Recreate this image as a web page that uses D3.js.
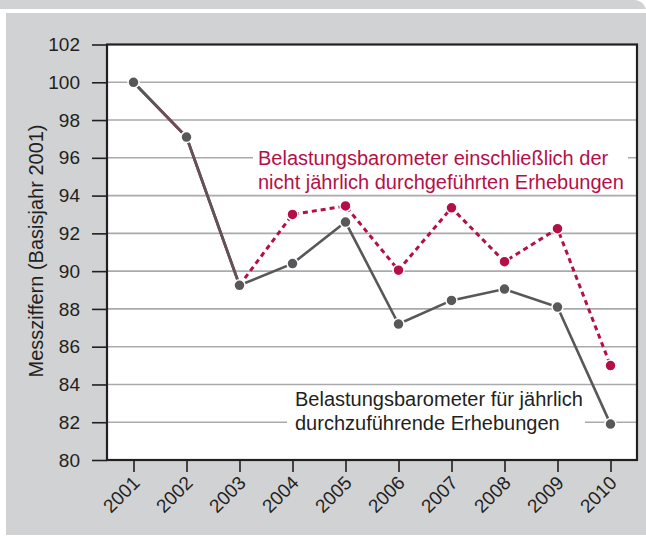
<!DOCTYPE html>
<html>
<head>
<meta charset="utf-8">
<script src="https://cdn.jsdelivr.net/npm/d3@7"></script>
<style>
  body { margin: 0; background: #fff; }
  svg { display: block; font-family: "Liberation Sans", Arial, Helvetica, sans-serif; }
</style>
</head>
<body>
<div id="chart"></div>
<script>
// chart values
const years = ['2001', '2002', '2003', '2004', '2005', '2006', '2007', '2008', '2009', '2010'];
const annual = [100, 97.1, 89.25, 90.4, 92.6, 87.2, 88.45, 89.05, 88.1, 81.9];
const allSurveys = [100, 97.1, 89.25, 93.0, 93.45, 90.05, 93.35, 90.5, 92.25, 85.0];
const yTicks = [80, 82, 84, 86, 88, 90, 92, 94, 96, 98, 100, 102];
const redLabel = ['Belastungsbarometer einschließlich der', 'nicht jährlich durchgeführten Erhebungen'];
const greyLabel = ['Belastungsbarometer für jährlich', 'durchzuführende Erhebungen'];
const yTitle = 'Messziffern (Basisjahr 2001)';

const W = 646, H = 539;
const frame = { left: 107, right: 637, top: 44.5, bottom: 460 };
const panelGrey = '#d1d2d4';
const red = '#b50f48';
const dark = '#58585a';

const svg = d3.select('#chart').append('svg')
  .attr('width', W)
  .attr('height', H);

// top band with rounded right corner, then the grey panel
svg.append('path')
  .attr('d', `M0,0 H634 A12,12 0 0 1 646,9 V9 H0 Z`)
  .attr('fill', panelGrey);
svg.append('rect')
  .attr('x', 6).attr('y', 13)
  .attr('width', W - 6).attr('height', 535 - 13)
  .attr('fill', panelGrey);

const x = d3.scalePoint()
  .domain(years)
  .range([frame.left, frame.right])
  .padding(0.5);

const y = d3.scaleLinear()
  .domain([80, 102])
  .range([frame.bottom, frame.top]);

// plot background
svg.append('rect')
  .attr('x', frame.left).attr('y', frame.top)
  .attr('width', frame.right - frame.left)
  .attr('height', frame.bottom - frame.top)
  .attr('fill', '#fff');

// gridlines
svg.append('g')
  .selectAll('line')
  .data(yTicks.filter(d => d > 80 && d < 102))
  .enter()
  .append('line')
  .attr('x1', frame.left).attr('x2', frame.right)
  .attr('y1', d => y(d)).attr('y2', d => y(d))
  .attr('stroke', '#a9aaac')
  .attr('stroke-width', 1.6);

// labels sit on a white box that cuts the gridline
function addLabel(lines, xPos, firstBaseline, color, box) {
  const g = svg.append('g');
  g.append('rect')
    .attr('x', box[0]).attr('y', box[1])
    .attr('width', box[2]).attr('height', box[3])
    .attr('fill', '#fff');
  g.selectAll('text')
    .data(lines)
    .enter()
    .append('text')
    .attr('x', xPos)
    .attr('y', (d, i) => firstBaseline + i * 24)
    .attr('fill', color)
    .style('font-size', '20px')
    .text(d => d);
}

addLabel(redLabel, 258, y(96) + 7, red, [253, y(96) - 14, 375, 48]);
addLabel(greyLabel, 295, y(82) - 16, '#231f20', [287, y(82) - 34, 298, 48]);

const line = d3.line()
  .x((d, i) => x(years[i]))
  .y(d => y(d));

// red series: first segments hidden under the grey line
svg.append('path')
  .datum(allSurveys.slice(0, 3))
  .attr('d', line)
  .attr('fill', 'none')
  .attr('stroke', red)
  .attr('stroke-width', 2.8);

svg.append('path')
  .datum(allSurveys)
  .attr('d', d3.line()
    .defined((d, i) => i >= 2)
    .x((d, i) => x(years[i]))
    .y(d => y(d)))
  .attr('fill', 'none')
  .attr('stroke', red)
  .attr('stroke-width', 3)
  .attr('stroke-dasharray', '5,4');

svg.append('path')
  .datum(annual)
  .attr('d', line)
  .attr('fill', 'none')
  .attr('stroke', dark)
  .attr('stroke-width', 2.6);

// markers
svg.append('g')
  .selectAll('circle')
  .data(allSurveys.map((v, i) => ({ v, i })).filter(d => d.i >= 3))
  .enter()
  .append('circle')
  .attr('cx', d => x(years[d.i]))
  .attr('cy', d => y(d.v))
  .attr('r', 5.5)
  .attr('fill', red)
  .attr('stroke', '#fff')
  .attr('stroke-width', 1.5);

svg.append('g')
  .selectAll('circle')
  .data(annual)
  .enter()
  .append('circle')
  .attr('cx', (d, i) => x(years[i]))
  .attr('cy', d => y(d))
  .attr('r', 5.5)
  .attr('fill', dark)
  .attr('stroke', '#fff')
  .attr('stroke-width', 1.5);

// frame
svg.append('rect')
  .attr('x', frame.left).attr('y', frame.top)
  .attr('width', frame.right - frame.left)
  .attr('height', frame.bottom - frame.top)
  .attr('fill', 'none')
  .attr('stroke', '#231f20')
  .attr('stroke-width', 2.2);

// y axis
const yAxis = svg.append('g')
  .attr('transform', `translate(${frame.left},0)`)
  .call(d3.axisLeft(y).tickValues(yTicks).tickSize(15).tickPadding(12));
yAxis.select('.domain').remove();
yAxis.selectAll('.tick line').attr('stroke', '#231f20').attr('stroke-width', 1.6);
yAxis.selectAll('.tick text')
  .attr('fill', '#231f20')
  .style('font-size', '19px')
  .style('font-family', '"Liberation Sans", Arial, sans-serif');

// x axis
const xAxis = svg.append('g')
  .attr('transform', `translate(0,${frame.bottom})`)
  .call(d3.axisBottom(x).tickSize(12).tickFormat(d => d));
xAxis.select('.domain').remove();
xAxis.selectAll('.tick line').attr('stroke', '#231f20').attr('stroke-width', 1.6);
xAxis.selectAll('.tick text')
  .attr('fill', '#231f20')
  .attr('text-anchor', 'end')
  .attr('dy', 0)
  .attr('y', 0)
  .attr('transform', 'translate(7,24) rotate(-45)')
  .style('font-size', '19px')
  .style('font-family', '"Liberation Sans", Arial, sans-serif');

// y title
svg.append('text')
  .attr('transform', `translate(43,251) rotate(-90)`)
  .attr('text-anchor', 'middle')
  .attr('fill', '#231f20')
  .style('font-size', '20px')
  .text(yTitle);
</script>
</body>
</html>
